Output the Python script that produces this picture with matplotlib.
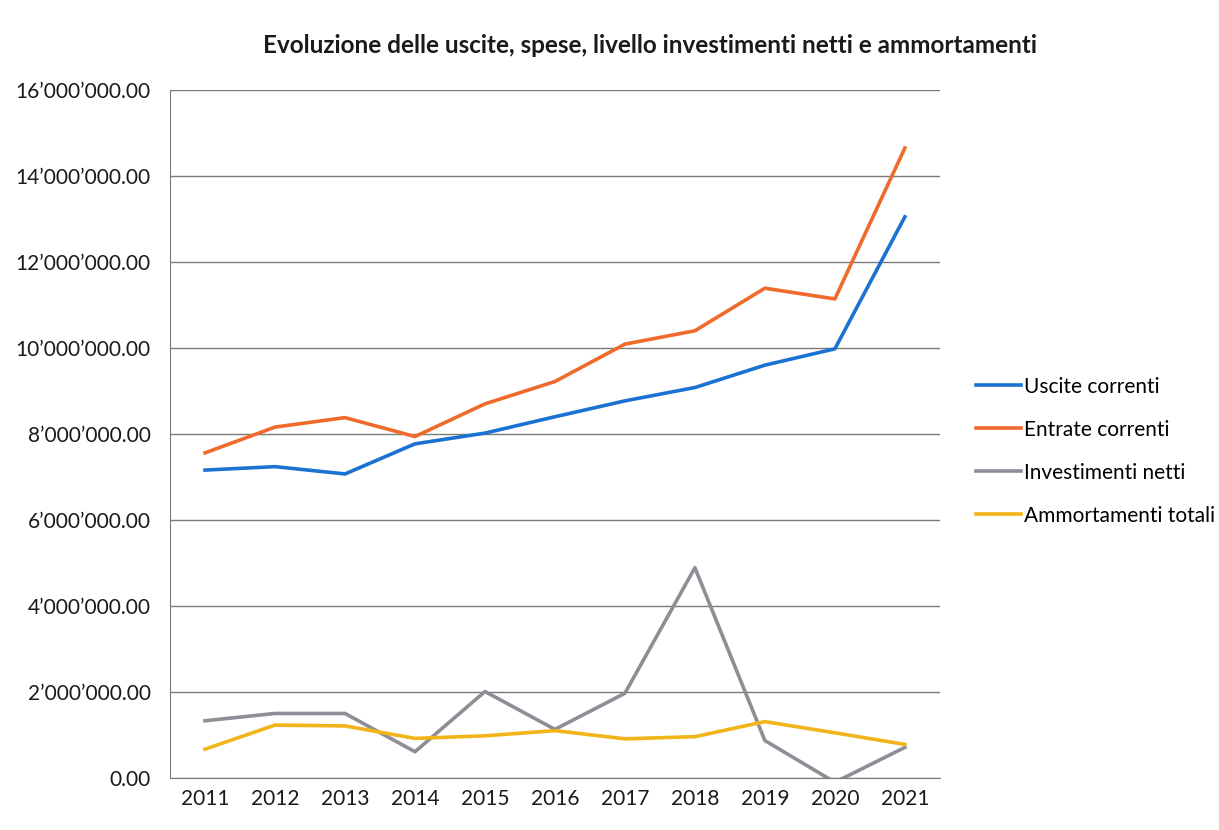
import matplotlib.pyplot as plt
import numpy as np

# Data
years = ['2011', '2012', '2013', '2014', '2015', '2016', '2017', '2018', '2019', '2020', '2021']
uscite_correnti = [7.16e6, 7.24e6, 7.07e6, 7.77e6, 8.02e6, 8.40e6, 8.77e6, 9.08e6, 9.60e6, 9.98e6, 13.05e6]
entrate_correnti = [7.56e6, 8.16e6, 8.38e6, 7.94e6, 8.70e6, 9.22e6, 10.09e6, 10.40e6, 11.39e6, 11.14e6, 14.65e6]
investimenti_netti = [1.33e6, 1.50e6, 1.50e6, 0.61e6, 2.01e6, 1.13e6, 1.97e6, 4.89e6, 0.87e6, -0.10e6, 0.71e6]
ammortamenti_totali = [0.67e6, 1.23e6, 1.21e6, 0.92e6, 0.98e6, 1.10e6, 0.91e6, 0.96e6, 1.31e6, 1.05e6, 0.78e6]

plt.rcParams['font.family'] = ['Lato', 'DejaVu Sans']

fig = plt.figure(figsize=(12.19, 8.30), dpi=100)
ax = fig.add_axes([0.1395, 0.0627, 0.6315, 0.8289])

x = np.arange(len(years))
lw = 2.6
ax.plot(x, uscite_correnti, color='#1a72d2', lw=lw, label='Uscite correnti')
ax.plot(x, entrate_correnti, color='#f06a2c', lw=lw, label='Entrate correnti')
ax.plot(x, investimenti_netti, color='#8d8e96', lw=lw, label='Investimenti netti')
ax.plot(x, ammortamenti_totali, color='#f2b519', lw=lw, label='Ammortamenti totali')

ax.set_xlim(-0.5, len(years) - 0.5)
ax.set_ylim(0, 16e6)
ticks = np.arange(0, 16e6 + 1, 2e6)
ax.set_yticks(ticks)
ax.set_yticklabels([f'{v:,.2f}'.replace(',', '\u2019') for v in ticks])
ax.set_xticks(x)
ax.set_xticklabels(years)
ax.tick_params(axis='both', length=0, labelsize=15, colors='#1a1a1a')
ax.tick_params(axis='y', pad=14)
ax.tick_params(axis='x', pad=8)

ax.grid(axis='y', color='#7a7a7a', lw=1)
ax.set_axisbelow(True)
for s in ['top', 'right']:
    ax.spines[s].set_visible(False)
ax.spines['left'].set_color('#7a7a7a')
ax.spines['bottom'].set_color('#7a7a7a')

fig.text(0.533, 0.945, 'Evoluzione delle uscite, spese, livello investimenti netti e ammortamenti',
         ha='center', va='center', fontsize=17.5, fontweight='bold', color='#1a1a1a')

ax.legend(loc='center left', bbox_to_anchor=(1.022, 0.475), frameon=False, fontsize=15,
          handlelength=2.2, handletextpad=0.15, labelspacing=1.1)

fig.savefig('out.png', dpi=100)
